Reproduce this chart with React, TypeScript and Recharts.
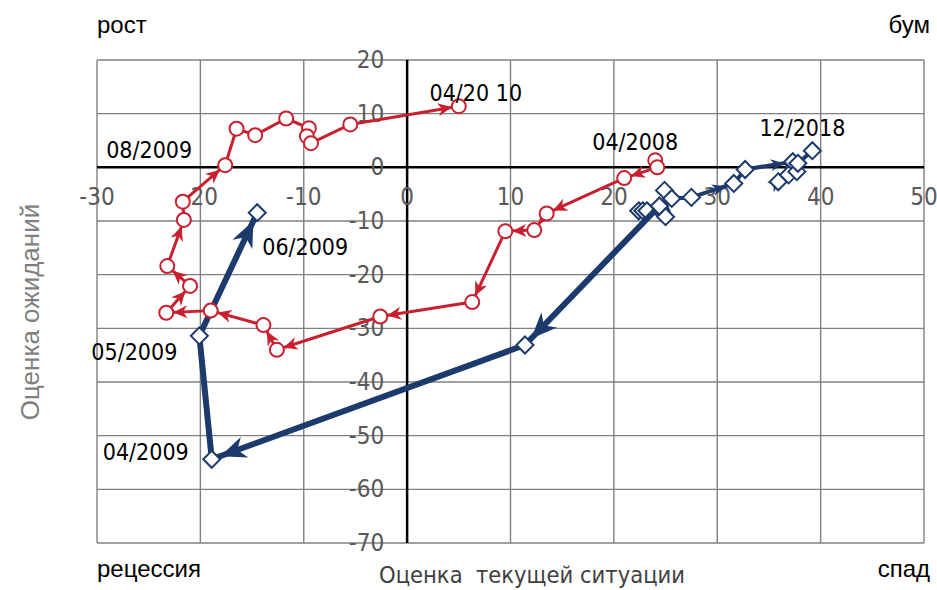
import React from 'react'
import {
  ScatterChart, Scatter, XAxis, YAxis, CartesianGrid,
  ReferenceLine, ReferenceDot,
} from 'recharts'

const RED = '#c8202f'
const BLUE = '#1d3a6c'
const NARROW = "'Liberation Sans Narrow', 'DejaVu Sans Condensed', sans-serif"

const xTicks = [-30, -20, -10, 0, 10, 20, 30, 40, 50]
const yTicks = [20, 10, 0, -10, -20, -30, -40, -50, -60, -70]

// 04/2008 .. 04/2010
const redPath = [
  { x: 24.0, y: 1.3 }, { x: 24.2, y: 0 }, { x: 21.0, y: -2.0 }, { x: 13.5, y: -8.6 },
  { x: 12.3, y: -11.7 }, { x: 9.5, y: -11.9 }, { x: 6.3, y: -25.1 }, { x: -2.6, y: -27.8 },
  { x: -12.6, y: -34.0 }, { x: -13.9, y: -29.4 }, { x: -19.0, y: -26.7 }, { x: -23.3, y: -27.1 },
  { x: -21.0, y: -22.1 }, { x: -23.2, y: -18.4 }, { x: -21.6, y: -9.8 }, { x: -21.7, y: -6.4 },
  { x: -17.6, y: 0.4 }, { x: -16.5, y: 7.2 }, { x: -14.7, y: 6.0 }, { x: -11.7, y: 9.1 },
  { x: -9.5, y: 7.3 }, { x: -9.7, y: 5.8 }, { x: -9.3, y: 4.5 }, { x: -5.5, y: 8.0 },
  { x: 5.0, y: 11.4 },
]

// crisis leg, up to 06/2009
const blueCrisis = [
  { x: 24.4, y: -7.2 }, { x: 11.4, y: -33.1 }, { x: -18.9, y: -54.4 },
  { x: -20.1, y: -31.4 }, { x: -14.5, y: -8.45 },
]

// recent leg, up to 12/2018
const blueRecent = [
  { x: 22.4, y: -8.1 }, { x: 22.8, y: -8.1 }, { x: 23.2, y: -8.1 }, { x: 25.0, y: -9.2 },
  { x: 24.9, y: -4.3 }, { x: 25.6, y: -5.8 }, { x: 27.5, y: -5.6 }, { x: 31.6, y: -3.0 },
  { x: 32.7, y: -0.4 }, { x: 37.3, y: 1.05 }, { x: 35.9, y: -2.7 }, { x: 36.9, y: -1.4 },
  { x: 37.7, y: -0.8 }, { x: 37.8, y: 0.75 }, { x: 39.2, y: 3.1 },
]

const notes = [
  { text: '04/2008', x: 24.0, y: 1.3 },
  { text: '04/20 10', x: 5.0, y: 11.4 },
  { text: '12/2018', x: 39.2, y: 3.1 },
  { text: '08/2009', x: -17.6, y: 0.4 },
  { text: '06/2009', x: -14.5, y: -8.45 },
  { text: '05/2009', x: -20.1, y: -31.4 },
  { text: '04/2009', x: -18.9, y: -54.4 },
]

// pixel offsets of the note text from its point
const noteOffset: Record<string, [number, number]> = {
  '04/2008': [-20, -10],
  '04/20 10': [17, -5],
  '12/2018': [-10, -15],
  '08/2009': [-76, -7],
  '06/2009': [48, 42],
  '05/2009': [-65, 24],
  '04/2009': [-66, 1],
}

// segments drawn without an arrow head
const redPlain = [0, 16, 17, 18, 19, 20, 21, 22]
const bluePlain = [2]

function ArrowPath(props: any) {
  const { points = [], color, lw, len, half, gap, plain = [] } = props
  const out: React.ReactNode[] = []
  for (let i = 0; i < points.length - 1; i++) {
    const a = points[i], b = points[i + 1]
    const dx = b.x - a.x, dy = b.y - a.y
    const d = Math.hypot(dx, dy)
    out.push(<line key={'l' + i} x1={a.x} y1={a.y} x2={b.x} y2={b.y} stroke={color} strokeWidth={lw} strokeLinecap="round" />)
    if (plain.includes(i) || d < gap + 2) continue
    const ux = dx / d, uy = dy / d
    const tx = b.x - ux * gap, ty = b.y - uy * gap
    const bx = tx - ux * len, by = ty - uy * len
    const nx = tx - ux * len * 0.7, ny = ty - uy * len * 0.7
    const pts = [
      [tx, ty], [bx - uy * half, by + ux * half], [nx, ny], [bx + uy * half, by - ux * half],
    ].map(p => p.join(',')).join(' ')
    out.push(<polygon key={'a' + i} points={pts} fill={color} />)
  }
  return <g>{out}</g>
}

const circle = (p: any) => (
  <circle cx={p.cx} cy={p.cy} r={7} fill="#fff" stroke={RED} strokeWidth={2} />
)
const diamond = (p: any) => (
  <path d={`M${p.cx},${p.cy - 8.5}L${p.cx + 8.5},${p.cy}L${p.cx},${p.cy + 8.5}L${p.cx - 8.5},${p.cy}Z`}
    fill="#fff" stroke={BLUE} strokeWidth={2} />
)

const corner: React.CSSProperties = {
  position: 'absolute', fontFamily: "'Liberation Sans', sans-serif", fontSize: 24, color: '#000', lineHeight: 1,
}

export default function App() {
  return (
    <div style={{ position: 'absolute', left: 0, top: 0, width: 937, height: 590, background: '#fff', overflow: 'hidden' }}>
      <ScatterChart width={937} height={590} margin={{ top: 60, right: 13, bottom: 47, left: 97 }}>
        <XAxis type="number" dataKey="x" hide domain={[-30, 50]} ticks={xTicks} interval={0} />
        <YAxis type="number" dataKey="y" hide domain={[-70, 20]} ticks={yTicks} interval={0} />
        <CartesianGrid stroke="#808080" strokeWidth={1.4} />
        <ReferenceLine x={0} stroke="#000" strokeWidth={2.5} />
        <ReferenceLine y={0} stroke="#000" strokeWidth={2.5} />
        {xTicks.map(v => (
          <ReferenceDot key={'x' + v} x={v} y={0} r={0} ifOverflow="visible"
            shape={(p: any) => (
              <text x={p.cx} y={p.cy + 38} textAnchor="middle" fontFamily={NARROW} fontSize={24}
                fill="#595959">{v}</text>
            )} />
        ))}
        {yTicks.map(v => (
          <ReferenceDot key={'y' + v} x={0} y={v} r={0} ifOverflow="visible"
            shape={(p: any) => (
              <text x={p.cx - 23} y={p.cy + 8} textAnchor="end" fontFamily={NARROW} fontSize={24}
                fill="#595959">{v}</text>
            )} />
        ))}
        <Scatter data={blueRecent} shape={diamond} isAnimationActive={false}
          line={<ArrowPath color={BLUE} lw={4} len={13} half={6} gap={9} />} />
        <Scatter data={blueCrisis} shape={diamond} isAnimationActive={false}
          line={<ArrowPath color={BLUE} lw={6} len={26} half={11} gap={9} plain={bluePlain} />} />
        <Scatter data={redPath} shape={circle} isAnimationActive={false}
          line={<ArrowPath color={RED} lw={3} len={14} half={6.5} gap={7} plain={redPlain} />} />
        {notes.map(n => (
          <ReferenceDot key={n.text} x={n.x} y={n.y} r={0} ifOverflow="visible"
            shape={(p: any) => (
              <text x={p.cx + noteOffset[n.text][0]} y={p.cy + noteOffset[n.text][1]} textAnchor="middle"
                fontFamily={NARROW} fontSize={23} fill="#000">{n.text}</text>
            )} />
        ))}
      </ScatterChart>
      <div style={{ ...corner, left: 97, top: 13 }}>рост</div>
      <div style={{ ...corner, right: 7, top: 13 }}>бум</div>
      <div style={{ ...corner, left: 97, top: 557 }}>рецессия</div>
      <div style={{ ...corner, right: 7, top: 557 }}>спад</div>
      <div style={{
        position: 'absolute', left: 532, top: 564, transform: 'translateX(-50%)', whiteSpace: 'pre',
        fontFamily: NARROW, fontSize: 23.5, color: '#404040', lineHeight: 1,
      }}>Оценка  текущей ситуации</div>
      <div style={{
        position: 'absolute', left: 30, top: 312, transform: 'translate(-50%, -50%) rotate(-90deg)',
        whiteSpace: 'nowrap', fontFamily: "'Liberation Sans', sans-serif", fontSize: 26, color: '#7f7f7f',
      }}>Оценка ожиданий</div>
    </div>
  )
}
